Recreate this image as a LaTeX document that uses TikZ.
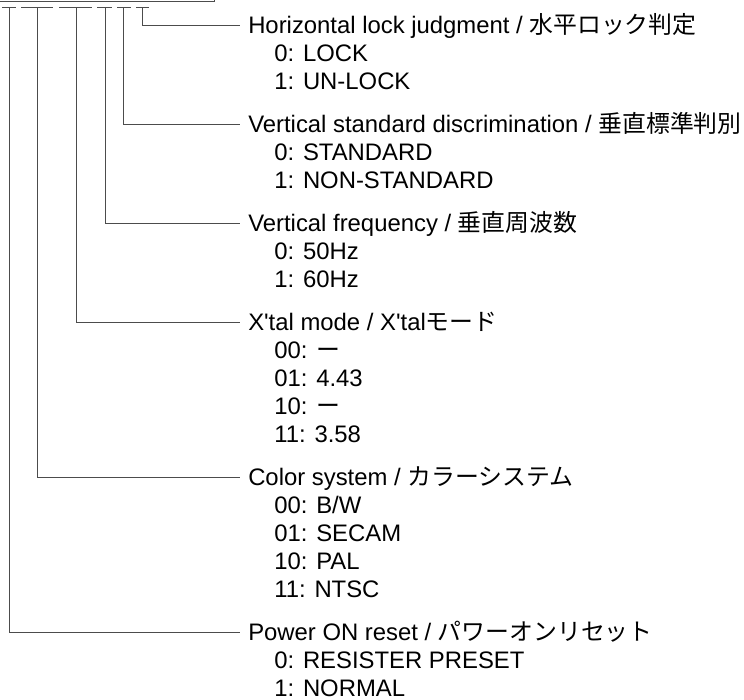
\documentclass[tikz,border=0pt]{standalone}
\usepackage{fontspec}
\setmainfont{Liberation Sans}
\newfontfamily\jp{Noto Sans CJK JP}
\tikzset{
  wire/.style={draw=black!70, line width=0.75pt},
  title/.style={anchor=west, inner xsep=6pt, inner ysep=0pt, text height=12.9pt, text depth=0pt},
  item/.style={anchor=west, inner sep=0pt, text height=12.9pt, text depth=0pt},
}
\begin{document}
\begin{tikzpicture}[x=0.75pt, y=-0.75pt, font=\fontsize{17.9}{20}\selectfont]
    \useasboundingbox (0,0) rectangle (744,700);
    % register box (bottom edge) and bit fields
    \draw[wire] (-5,1) -- (214,1) -- (214,-5);
    \draw[wire] (2,7) -- (16,7) (21,7) -- (53,7) (59,7) -- (92,7)
                (97,7) -- (112,7) (117,7) -- (131,7) (136,7) -- (149,7);
    \coordinate (pwr-bit) at (9,7);
    \coordinate (col-bit) at (37,7);
    \coordinate (xtl-bit) at (76,7);
    \coordinate (vfq-bit) at (105,7);
    \coordinate (vsd-bit) at (123,7);
    \coordinate (hlk-bit) at (142,7);

    \node[title] (hlk) at (240,25) {Horizontal lock judgment / {\jp 水平ロック判定}};
    \node[item] (hlk0) at (274,53) {0: LOCK};
    \node[item] (hlk1) at (274,81) {1: UN-LOCK};

    \node[title] (vsd) at (240,124) {Vertical standard discrimination / {\jp 垂直標準判別}};
    \node[item] (vsd0) at (274,152) {0: STANDARD};
    \node[item] (vsd1) at (274,180) {1: NON-STANDARD};

    \node[title] (vfq) at (240,223) {Vertical frequency / {\jp 垂直周波数}};
    \node[item] (vfq0) at (274,251) {0: 50Hz};
    \node[item] (vfq1) at (274,279) {1: 60Hz};

    \node[title] (xtl) at (240,322) {X\textquotesingle tal mode / X\textquotesingle tal{\jp モード}};
    \node[item] (xtl00) at (274,350) {00: {\jp ー}};
    \node[item] (xtl01) at (274,378) {01: 4.43};
    \node[item] (xtl10) at (274,406) {10: {\jp ー}};
    \node[item] (xtl11) at (274,434) {11: 3.58};

    \node[title] (col) at (240,477) {Color system / {\jp カラーシステム}};
    \node[item] (col00) at (274,505) {00: B/W};
    \node[item] (col01) at (274,533) {01: SECAM};
    \node[item] (col10) at (274,561) {10: PAL};
    \node[item] (col11) at (274,589) {11: NTSC};

    \node[title] (pwr) at (240,632) {Power ON reset / {\jp パワーオンリセット}};
    \node[item] (pwr0) at (274,660) {0: RESISTER PRESET};
    \node[item] (pwr1) at (274,688) {1: NORMAL};

    \draw[wire] (hlk-bit) |- (hlk.west);
    \draw[wire] (vsd-bit) |- (vsd.west);
    \draw[wire] (vfq-bit) |- (vfq.west);
    \draw[wire] (xtl-bit) |- (xtl.west);
    \draw[wire] (col-bit) |- (col.west);
    \draw[wire] (pwr-bit) |- (pwr.west);
\end{tikzpicture}
\end{document}
